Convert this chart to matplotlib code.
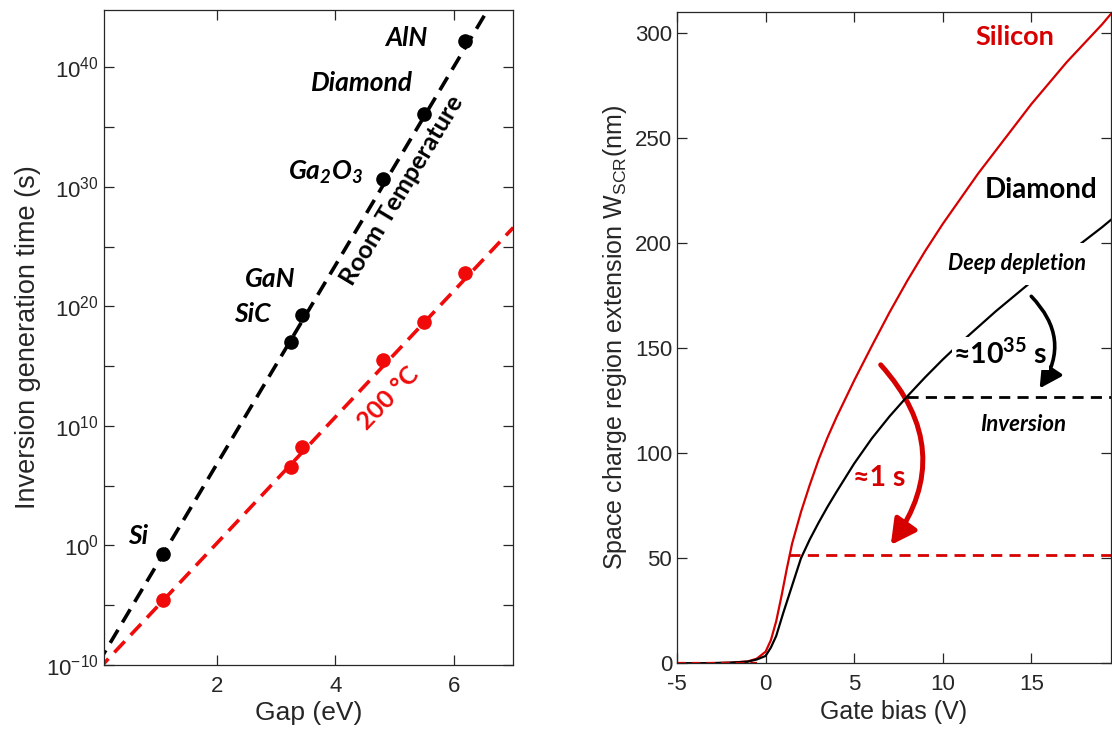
import numpy as np
import matplotlib
matplotlib.use('Agg')
import matplotlib.pyplot as plt
from matplotlib.ticker import FixedLocator, FuncFormatter, NullFormatter
from matplotlib.patches import FancyArrowPatch


# Left panel: inversion generation time vs band gap (log10 of seconds)
materials = ['Si', 'SiC', 'GaN', 'Ga2O3', 'Diamond', 'AlN']
gap_ev = [1.10, 3.26, 3.43, 4.80, 5.49, 6.19]
log_t_rt = [-0.71, 17.05, 19.29, 30.67, 36.08, 42.24]
log_t_200c = [-4.56, 6.59, 8.22, 15.52, 18.73, 22.83]

# straight fits (endpoints)
fit_gap = [0.0, 7.0]
fit_log_rt = [-9.86, 48.4]
fit_log_200c = [-10.4, 26.6]

# Right panel: space charge region width vs gate bias
bias_si = [-5, -3, -2, -1, -0.5, 0, 0.3, 0.6, 0.9, 1.2, 1.5, 2.0, 2.5, 3.0, 3.5, 4,
           5, 6, 7, 8, 9, 10, 11, 12, 13, 14, 15, 16, 17, 18, 19, 19.5]
wscr_si = [0, 0.1, 0.3, 0.9, 2.2, 5.5, 11, 20, 32, 45, 57, 72, 85, 97, 107.5, 117,
           134.5, 151, 167, 182, 196, 209, 221, 233, 244, 255, 266, 276, 286, 295, 304, 309]
bias_dia = [-5, -3, -2, -1, -0.5, 0, 0.3, 0.6, 1.0, 1.5, 2.0, 2.5, 3.0, 3.5, 4,
            5, 6, 7, 8, 9, 10, 11, 12, 13, 14, 15, 16, 17, 18, 19, 19.5]
wscr_dia = [0, 0.1, 0.3, 0.8, 1.8, 3.5, 7.5, 13, 24, 37, 50, 59, 67, 74.5, 81.5,
            95, 107, 117.5, 127, 136, 144.5, 152.5, 160, 167.5, 174.5, 181.5, 188,
            194.5, 201, 207.5, 211]
inv_si_bias = [1.3, 19.5]
inv_si_w = [51.6, 51.6]
inv_dia_bias = [8.0, 19.5]
inv_dia_w = [126.5, 126.5]

AX_COLOR = '#262626'
RED_L = '#f00a0a'
RED_R = '#d60000'
ANNOT = ['Lato', 'DejaVu Sans']

plt.rcParams['font.family'] = ['Liberation Sans', 'DejaVu Sans']
plt.rcParams['axes.edgecolor'] = AX_COLOR
plt.rcParams['axes.linewidth'] = 0.9
plt.rcParams['axes.unicode_minus'] = False


def style_axes(ax):
    ax.tick_params(which='both', direction='in', top=True, right=True,
                   color=AX_COLOR, labelcolor=AX_COLOR, labelsize=16, width=0.9)
    ax.tick_params(which='both', length=7)
    ax.tick_params(axis='x', pad=8)


fig = plt.figure(figsize=(11.12, 7.31), dpi=100)

# ---------------- left panel ----------------
ax1 = fig.add_axes([0.0935, 0.0903, 0.3681, 0.896])
ax1.set_yscale('log')
fit_x = np.array(fit_gap)
ax1.plot(fit_x, 10.0 ** np.array(fit_log_rt), color='k', lw=2.6,
         dashes=(4.2, 2.4))
ax1.plot(fit_x, 10.0 ** np.array(fit_log_200c), color=RED_L, lw=2.6,
         dashes=(4.2, 2.4))
ax1.plot(gap_ev, 10.0 ** np.array(log_t_rt), 'o', color='k', ms=9.5)
ax1.plot(gap_ev, 10.0 ** np.array(log_t_200c), 'o', color=RED_L, ms=9.5)

ax1.set_xlim(0.1, 7)
ax1.set_ylim(1e-10, 10 ** 44.8)
ax1.xaxis.set_major_locator(FixedLocator([2, 4, 6]))
ax1.yaxis.set_major_locator(FixedLocator([10.0 ** k for k in range(-10, 41, 10)]))
ax1.yaxis.set_minor_locator(FixedLocator([10.0 ** k for k in range(-5, 41, 10)]))
ax1.yaxis.set_minor_formatter(NullFormatter())
ax1.yaxis.set_major_formatter(FuncFormatter(
    lambda v, pos: r'$\mathregular{10^{%d}}$' % round(np.log10(v))))
style_axes(ax1)
ax1.set_xlabel('Gap (eV)', fontsize=19, color=AX_COLOR, labelpad=3)
ax1.set_ylabel('Inversion generation time (s)', fontsize=19.5, color=AX_COLOR, labelpad=4)

label_pos = {
    'Si': (0.67, 0.83),
    'SiC': (2.6, 19.4),
    'GaN': (2.9, 22.3),
    'Ga2O3': (3.84, 31.25),
    'Diamond': (4.45, 38.7),
    'AlN': (5.19, 42.5),
}
for name in materials:
    x, lg = label_pos[name]
    txt = name if name != 'Ga2O3' else r'Ga$_\mathregular{2}$O$_\mathregular{3}$'
    ax1.text(x, 10.0 ** lg, txt, family=ANNOT, fontsize=19, fontweight='bold',
             fontstyle='italic', ha='center', va='center', color='k')

ax1.text(5.13, 10.0 ** 29.7, 'Room Temperature', family=ANNOT, fontsize=18,
         fontweight='bold', rotation=59, ha='center', va='center', color='k',
         rotation_mode='anchor')
ax1.text(4.89, 10.0 ** 12.33, '200 °C', family=ANNOT, fontsize=18,
         fontweight='bold', rotation=46, ha='center', va='center', color=RED_L,
         rotation_mode='anchor')

# ---------------- right panel ----------------
ax2 = fig.add_axes([0.6088, 0.0926, 0.3903, 0.8914])
ax2.plot(bias_si, wscr_si, color=RED_R, lw=1.6)
ax2.plot(bias_dia, wscr_dia, color='k', lw=1.6)
ax2.plot(inv_si_bias, inv_si_w, color=RED_R, lw=2.0, dashes=(4, 2.6))
ax2.plot(inv_dia_bias, inv_dia_w, color='k', lw=2.0, dashes=(4, 2.6))
ax2.plot([-5, -0.5], [0, 0], color=RED_R, lw=1.6, dashes=(4, 2.6))

ax2.set_xlim(-5, 19.5)
ax2.set_ylim(0, 310)
ax2.xaxis.set_major_locator(FixedLocator([-5, 0, 5, 10, 15]))
ax2.yaxis.set_major_locator(FixedLocator([0, 50, 100, 150, 200, 250, 300]))
style_axes(ax2)
ax2.set_xlabel('Gate bias (V)', fontsize=18, color=AX_COLOR, labelpad=3)
ax2.set_ylabel(r'Space charge region extension W$_\mathregular{SCR}$(nm)',
               fontsize=18, color=AX_COLOR, labelpad=4)

ax2.text(14.05, 297.8, 'Silicon', family=ANNOT, fontsize=19.5, fontweight='bold',
         color=RED_R, ha='center', va='center')
ax2.text(15.57, 225.4, 'Diamond', family=ANNOT, fontsize=20, fontweight='bold',
         color='k', ha='center', va='center')
ax2.text(14.21, 190, 'Deep depletion', family=ANNOT, fontsize=15.5,
         fontweight='bold', fontstyle='italic', color='k', ha='center', va='center',
         bbox=dict(boxstyle='square,pad=0.5', fc='white', ec='none'))
ax2.text(14.52, 113.5, 'Inversion', family=ANNOT, fontsize=16,
         fontweight='bold', fontstyle='italic', color='k', ha='center', va='center')
ax2.text(13.26, 147.3, r'≈10$^\mathregular{35}$ s', family=ANNOT, fontsize=20.5,
         fontweight='bold', color='k', ha='center', va='center',
         bbox=dict(boxstyle='square,pad=0.05', fc='white', ec='none'))
ax2.text(6.4, 88.2, '≈1 s', family=ANNOT, fontsize=20.5, fontweight='bold',
         color=RED_R, ha='center', va='center')

arr_k = FancyArrowPatch((15.0, 174.6), (15.47, 130.8),
                        connectionstyle='arc3,rad=-0.4',
                        arrowstyle='-|>,head_length=0.75,head_width=0.4',
                        mutation_scale=18, lw=2.6, color='k',
                        shrinkA=0, shrinkB=0)
ax2.add_patch(arr_k)
arr_r = FancyArrowPatch((6.5, 142), (7.07, 56.3),
                        connectionstyle='arc3,rad=-0.4',
                        arrowstyle='-|>,head_length=0.75,head_width=0.4',
                        mutation_scale=20, lw=3.6, color=RED_R,
                        shrinkA=0, shrinkB=0)
ax2.add_patch(arr_r)

fig.savefig('out.png', dpi=100)
